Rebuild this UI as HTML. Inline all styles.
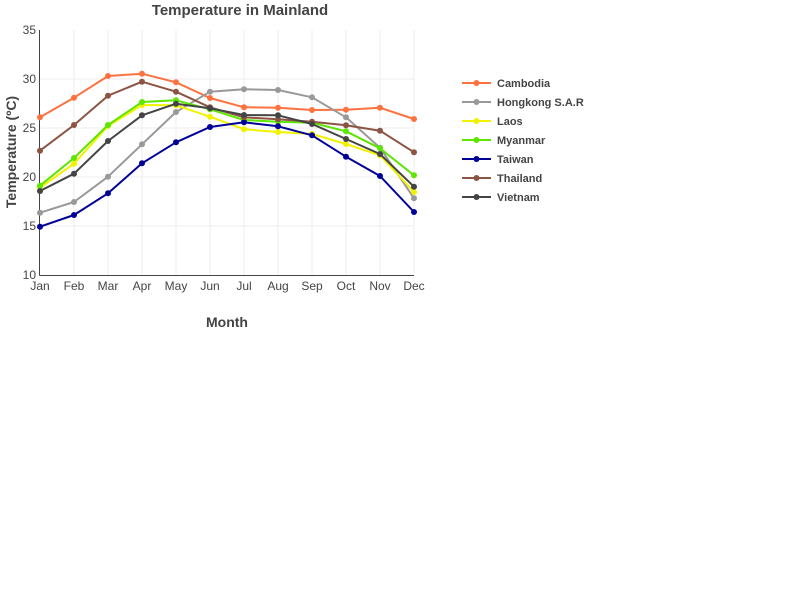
<!DOCTYPE html>
<html><head><meta charset="utf-8"><style>
html,body{margin:0;padding:0;background:#fff;}
svg{display:block;font-family:"Liberation Sans",sans-serif;}
</style></head><body>
<svg width="800" height="600" viewBox="0 0 800 600" xmlns="http://www.w3.org/2000/svg">
<rect width="800" height="600" fill="#fff"/>
<g stroke="#eee" stroke-width="1">
<line x1="74" y1="30" x2="74" y2="275"/><line x1="108" y1="30" x2="108" y2="275"/><line x1="142" y1="30" x2="142" y2="275"/><line x1="176" y1="30" x2="176" y2="275"/><line x1="210" y1="30" x2="210" y2="275"/><line x1="244" y1="30" x2="244" y2="275"/><line x1="278" y1="30" x2="278" y2="275"/><line x1="312" y1="30" x2="312" y2="275"/><line x1="346" y1="30" x2="346" y2="275"/><line x1="380" y1="30" x2="380" y2="275"/><line x1="414" y1="30" x2="414" y2="275"/>
<line x1="40" y1="79" x2="414" y2="79"/><line x1="40" y1="128" x2="414" y2="128"/><line x1="40" y1="177" x2="414" y2="177"/><line x1="40" y1="226" x2="414" y2="226"/>
</g>
<line x1="39.5" y1="30" x2="39.5" y2="275.5" stroke="#444" stroke-width="1"/>
<line x1="39.5" y1="275.5" x2="414" y2="275.5" stroke="#444" stroke-width="1"/>
<g font-size="12" fill="#444" text-anchor="end">
<text x="36" y="34">35</text><text x="36" y="83">30</text><text x="36" y="132">25</text><text x="36" y="181">20</text><text x="36" y="230">15</text><text x="36" y="279">10</text>
</g>
<g font-size="12" fill="#444" text-anchor="middle">
<text x="40" y="290">Jan</text><text x="74" y="290">Feb</text><text x="108" y="290">Mar</text><text x="142" y="290">Apr</text><text x="176" y="290">May</text><text x="210" y="290">Jun</text><text x="244" y="290">Jul</text><text x="278" y="290">Aug</text><text x="312" y="290">Sep</text><text x="346" y="290">Oct</text><text x="380" y="290">Nov</text><text x="414" y="290">Dec</text>
</g>
<text x="240" y="15" font-size="15" font-weight="bold" fill="#444" text-anchor="middle">Temperature in Mainland</text>
<text x="227" y="327" font-size="14" font-weight="bold" fill="#444" text-anchor="middle">Month</text>
<text transform="translate(16,152) rotate(-90)" font-size="14" font-weight="bold" fill="#444" text-anchor="middle">Temperature (ºC)</text>

<g fill="none" stroke-width="2" stroke-linejoin="round">
<polyline stroke="#ff7240" points="40,117.3 74,97.7 108,76 142,73.7 176,82.3 210,98 244,107.3 278,107.7 312,110 346,109.7 380,107.7 414,119"/>
</g>
<g fill="#ff7240"><circle cx="40" cy="117.3" r="3"/><circle cx="74" cy="97.7" r="3"/><circle cx="108" cy="76" r="3"/><circle cx="142" cy="73.7" r="3"/><circle cx="176" cy="82.3" r="3"/><circle cx="210" cy="98" r="3"/><circle cx="244" cy="107.3" r="3"/><circle cx="278" cy="107.7" r="3"/><circle cx="312" cy="110" r="3"/><circle cx="346" cy="109.7" r="3"/><circle cx="380" cy="107.7" r="3"/><circle cx="414" cy="119" r="3"/></g>

<g fill="none" stroke-width="2" stroke-linejoin="round">
<polyline stroke="#999999" points="40,212.7 74,202 108,176.7 142,144.3 176,112 210,91.7 244,89.3 278,90 312,97.3 346,117.3 380,147.7 414,198.3"/>
</g>
<g fill="#999999"><circle cx="40" cy="212.7" r="3"/><circle cx="74" cy="202" r="3"/><circle cx="108" cy="176.7" r="3"/><circle cx="142" cy="144.3" r="3"/><circle cx="176" cy="112" r="3"/><circle cx="210" cy="91.7" r="3"/><circle cx="244" cy="89.3" r="3"/><circle cx="278" cy="90" r="3"/><circle cx="312" cy="97.3" r="3"/><circle cx="346" cy="117.3" r="3"/><circle cx="380" cy="147.7" r="3"/><circle cx="414" cy="198.3" r="3"/></g>

<g fill="none" stroke-width="2" stroke-linejoin="round">
<polyline stroke="#f2f200" points="40,187.7 74,163.7 108,126 142,105 176,105.3 210,116.7 244,129.3 278,132 312,134 346,144 380,155.3 414,192"/>
</g>
<g fill="#f2f200"><circle cx="40" cy="187.7" r="3"/><circle cx="74" cy="163.7" r="3"/><circle cx="108" cy="126" r="3"/><circle cx="142" cy="105" r="3"/><circle cx="176" cy="105.3" r="3"/><circle cx="210" cy="116.7" r="3"/><circle cx="244" cy="129.3" r="3"/><circle cx="278" cy="132" r="3"/><circle cx="312" cy="134" r="3"/><circle cx="346" cy="144" r="3"/><circle cx="380" cy="155.3" r="3"/><circle cx="414" cy="192" r="3"/></g>

<g fill="none" stroke-width="2" stroke-linejoin="round">
<polyline stroke="#5ce600" points="40,185.7 74,158 108,125 142,102 176,100.3 210,109.3 244,120 278,121.7 312,122.7 346,131.3 380,148.3 414,175.3"/>
</g>
<g fill="#5ce600"><circle cx="40" cy="185.7" r="3"/><circle cx="74" cy="158" r="3"/><circle cx="108" cy="125" r="3"/><circle cx="142" cy="102" r="3"/><circle cx="176" cy="100.3" r="3"/><circle cx="210" cy="109.3" r="3"/><circle cx="244" cy="120" r="3"/><circle cx="278" cy="121.7" r="3"/><circle cx="312" cy="122.7" r="3"/><circle cx="346" cy="131.3" r="3"/><circle cx="380" cy="148.3" r="3"/><circle cx="414" cy="175.3" r="3"/></g>

<g fill="none" stroke-width="2" stroke-linejoin="round">
<polyline stroke="#000099" points="40,226.7 74,215 108,193.3 142,163.3 176,142.3 210,127 244,122.3 278,126.3 312,135.3 346,156.7 380,176 414,212"/>
</g>
<g fill="#000099"><circle cx="40" cy="226.7" r="3"/><circle cx="74" cy="215" r="3"/><circle cx="108" cy="193.3" r="3"/><circle cx="142" cy="163.3" r="3"/><circle cx="176" cy="142.3" r="3"/><circle cx="210" cy="127" r="3"/><circle cx="244" cy="122.3" r="3"/><circle cx="278" cy="126.3" r="3"/><circle cx="312" cy="135.3" r="3"/><circle cx="346" cy="156.7" r="3"/><circle cx="380" cy="176" r="3"/><circle cx="414" cy="212" r="3"/></g>

<g fill="none" stroke-width="2" stroke-linejoin="round">
<polyline stroke="#8c5442" points="40,150.7 74,125 108,95.7 142,81.7 176,91.7 210,107.3 244,117.3 278,119.3 312,121.7 346,125.3 380,130.7 414,152.3"/>
</g>
<g fill="#8c5442"><circle cx="40" cy="150.7" r="3"/><circle cx="74" cy="125" r="3"/><circle cx="108" cy="95.7" r="3"/><circle cx="142" cy="81.7" r="3"/><circle cx="176" cy="91.7" r="3"/><circle cx="210" cy="107.3" r="3"/><circle cx="244" cy="117.3" r="3"/><circle cx="278" cy="119.3" r="3"/><circle cx="312" cy="121.7" r="3"/><circle cx="346" cy="125.3" r="3"/><circle cx="380" cy="130.7" r="3"/><circle cx="414" cy="152.3" r="3"/></g>

<g fill="none" stroke-width="2" stroke-linejoin="round">
<polyline stroke="#444444" points="40,191 74,173.7 108,141 142,115.3 176,103.7 210,108.3 244,115 278,115.3 312,124 346,139 380,154 414,186.7"/>
</g>
<g fill="#444444"><circle cx="40" cy="191" r="3"/><circle cx="74" cy="173.7" r="3"/><circle cx="108" cy="141" r="3"/><circle cx="142" cy="115.3" r="3"/><circle cx="176" cy="103.7" r="3"/><circle cx="210" cy="108.3" r="3"/><circle cx="244" cy="115" r="3"/><circle cx="278" cy="115.3" r="3"/><circle cx="312" cy="124" r="3"/><circle cx="346" cy="139" r="3"/><circle cx="380" cy="154" r="3"/><circle cx="414" cy="186.7" r="3"/></g>

<g font-size="11" font-weight="bold" fill="#444" stroke-width="2">
<line x1="462" y1="83" x2="491" y2="83" stroke="#ff7240"/><circle cx="476.5" cy="83" r="3" fill="#ff7240"/><text x="497" y="87">Cambodia</text>
<line x1="462" y1="102" x2="491" y2="102" stroke="#999999"/><circle cx="476.5" cy="102" r="3" fill="#999999"/><text x="497" y="106">Hongkong S.A.R</text>
<line x1="462" y1="121" x2="491" y2="121" stroke="#f2f200"/><circle cx="476.5" cy="121" r="3" fill="#f2f200"/><text x="497" y="125">Laos</text>
<line x1="462" y1="140" x2="491" y2="140" stroke="#5ce600"/><circle cx="476.5" cy="140" r="3" fill="#5ce600"/><text x="497" y="144">Myanmar</text>
<line x1="462" y1="159" x2="491" y2="159" stroke="#000099"/><circle cx="476.5" cy="159" r="3" fill="#000099"/><text x="497" y="163">Taiwan</text>
<line x1="462" y1="178" x2="491" y2="178" stroke="#8c5442"/><circle cx="476.5" cy="178" r="3" fill="#8c5442"/><text x="497" y="182">Thailand</text>
<line x1="462" y1="197" x2="491" y2="197" stroke="#444444"/><circle cx="476.5" cy="197" r="3" fill="#444444"/><text x="497" y="201">Vietnam</text>
</g>
</svg>
</body></html>
